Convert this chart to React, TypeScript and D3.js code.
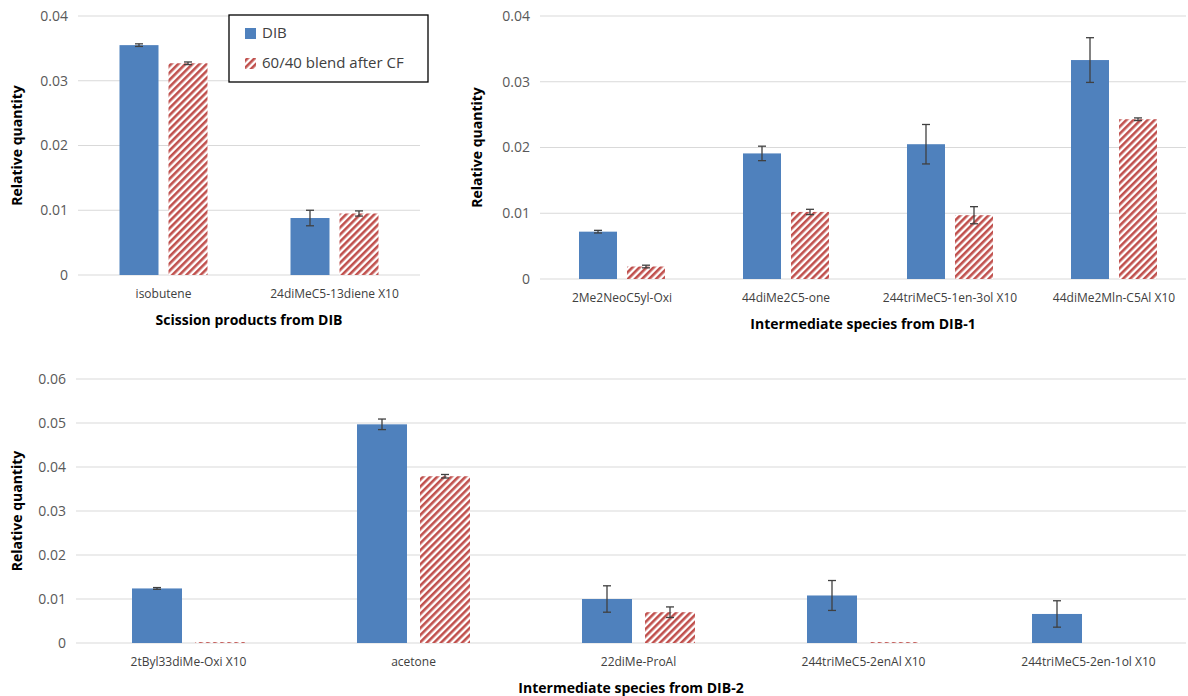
// @ts-nocheck
import React from 'react'
import * as d3 from 'd3'

const BLUE = '#4f81bd'
const RED = '#c0504d'
const FONT = 'Open Sans, Liberation Sans, sans-serif'

const cats1 = ['isobutene', '24diMeC5-13diene X10']
const dib1 = [0.0355, 0.0088]
const dib1Err = [0.0002, 0.0012]
const blend1 = [0.0327, 0.0095]
const blend1Err = [0.0002, 0.0004]

const cats2 = ['2Me2NeoC5yl-Oxi', '44diMe2C5-one', '244triMeC5-1en-3ol X10', '44diMe2Mln-C5Al X10']
const dib2 = [0.0072, 0.0191, 0.0205, 0.0333]
const dib2Err = [0.0002, 0.0011, 0.003, 0.0034]
const blend2 = [0.0019, 0.0102, 0.0097, 0.0243]
const blend2Err = [0.0002, 0.0004, 0.0013, 0.0002]

const cats3 = ['2tByl33diMe-Oxi X10', 'acetone', '22diMe-ProAl', '244triMeC5-2enAl X10', '244triMeC5-2en-1ol X10']
const dib3 = [0.0124, 0.0497, 0.01, 0.0108, 0.0066]
const dib3Err = [0.0002, 0.0012, 0.003, 0.0034, 0.003]
const blend3 = [0.0002, 0.0379, 0.007, 0.0002, 0]
const blend3Err = [0, 0.0004, 0.0012, 0, 0]

const ticks4 = [0, 0.01, 0.02, 0.03, 0.04]
const ticks6 = [0, 0.01, 0.02, 0.03, 0.04, 0.05, 0.06]

const Panel = ({ cats, dib, dibErr, blend, blendErr, x0, x1, gridEnd, yTop, yBot, max, ticks, barW, gap, title, titleY, labelX }) => {
  const x = d3.scaleBand().domain(cats).range([x0, x1])
  const y = d3.scaleLinear().domain([0, max]).range([yBot, yTop])
  const fmt = (v) => (v === 0 ? '0' : d3.format('.2f')(v))
  const series = [
    { vals: dib, errs: dibErr, fill: BLUE, off: -gap / 2 - barW },
    { vals: blend, errs: blendErr, fill: 'url(#hatch)', off: gap / 2 },
  ]
  return (
    <g>
      {ticks.map((t) => (
        <g key={t}>
          <line x1={x0} x2={gridEnd} y1={y(t)} y2={y(t)} stroke="#d9d9d9" strokeWidth={1} />
          <text x={x0 - 10} y={y(t)} dy="0.35em" textAnchor="end" fontSize={14} fill="#595959">{fmt(t)}</text>
        </g>
      ))}
      {series.map((s, si) =>
        cats.map((c, i) => {
          const cx = x(c) + x.bandwidth() / 2 + s.off
          const v = s.vals[i]
          const e = s.errs[i]
          return (
            <g key={si + c}>
              {v > 0 && <rect x={cx} width={barW} y={y(v)} height={y(0) - y(v)} fill={s.fill} />}
              {e > 0 && (
                <g stroke="#404040" strokeWidth={1.3}>
                  <line x1={cx + barW / 2} x2={cx + barW / 2} y1={y(v - e)} y2={y(v + e)} />
                  <line x1={cx + barW / 2 - 4} x2={cx + barW / 2 + 4} y1={y(v - e)} y2={y(v - e)} />
                  <line x1={cx + barW / 2 - 4} x2={cx + barW / 2 + 4} y1={y(v + e)} y2={y(v + e)} />
                </g>
              )}
            </g>
          )
        })
      )}
      {cats.map((c) => (
        <text key={c} x={x(c) + x.bandwidth() / 2} y={yBot + 23} textAnchor="middle" fontSize={12} fill="#404040">{c}</text>
      ))}
      <text x={(x0 + gridEnd) / 2} y={titleY} textAnchor="middle" fontSize={14} fontWeight="bold" fill="#000">{title}</text>
      <text transform={`translate(${labelX}, ${(yTop + yBot) / 2}) rotate(-90)`} textAnchor="middle" fontSize={14} fontWeight="bold" fill="#000">Relative quantity</text>
    </g>
  )
}

export default function App() {
  return (
    <svg width={1188} height={696} style={{ position: 'absolute', left: 0, top: 0, fontFamily: FONT }}>
      <defs>
        <pattern id="hatch" patternUnits="userSpaceOnUse" width={5} height={5} patternTransform="rotate(45)">
          <rect width={5} height={5} fill="#fff" />
          <rect width={2.6} height={5} fill={RED} />
        </pattern>
      </defs>
      <rect width={1188} height={696} fill="#fff" />
      <Panel cats={cats1} dib={dib1} dibErr={dib1Err} blend={blend1} blendErr={blend1Err}
        x0={78} x1={420} gridEnd={420} yTop={16} yBot={275} max={0.04} ticks={ticks4}
        barW={39} gap={10} title="Scission products from DIB" titleY={325} labelX={22} />
      <Panel cats={cats2} dib={dib2} dibErr={dib2Err} blend={blend2} blendErr={blend2Err}
        x0={540} x1={1196} gridEnd={1186} yTop={16} yBot={279} max={0.04} ticks={ticks4}
        barW={38} gap={10} title="Intermediate species from DIB-1" titleY={329} labelX={482} />
      <Panel cats={cats3} dib={dib3} dibErr={dib3Err} blend={blend3} blendErr={blend3Err}
        x0={76} x1={1201} gridEnd={1186} yTop={379} yBot={643} max={0.06} ticks={ticks6}
        barW={50} gap={13} title="Intermediate species from DIB-2" titleY={693} labelX={22} />
      <g>
        <rect x={229} y={15} width={199} height={67} fill="#fff" stroke="#000" strokeWidth={1.3} />
        <rect x={245} y={28} width={11} height={11} fill={BLUE} />
        <text x={262} y={38} fontSize={15} fill="#404040">DIB</text>
        <rect x={245} y={58} width={11} height={11} fill="url(#hatch)" />
        <text x={262} y={68} fontSize={15} fill="#404040">60/40 blend after CF</text>
      </g>
    </svg>
  )
}
